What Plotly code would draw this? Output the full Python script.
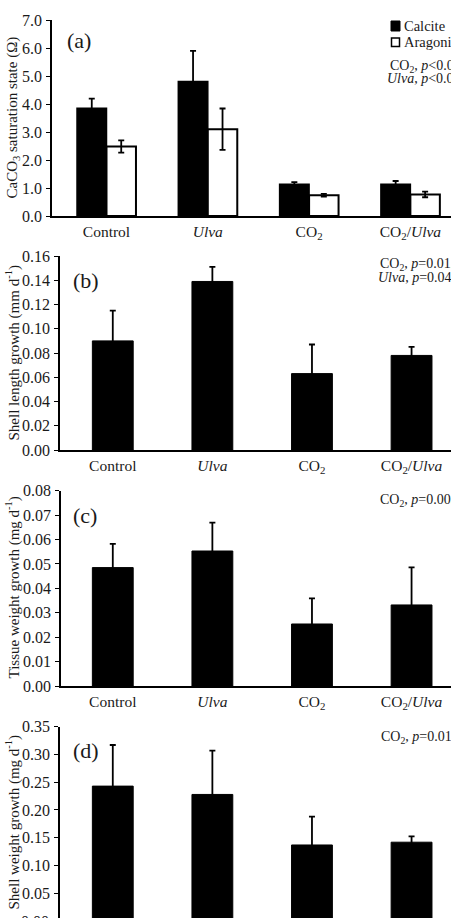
import plotly.graph_objects as go

# ---------------- data ----------------
categories = ["Control", "<i>Ulva</i>", "CO<sub>2</sub>", "CO<sub>2</sub>/<i>Ulva</i>"]

calcite = [3.85, 4.80, 1.13, 1.13]
calcite_err = [0.34, 1.10, 0.08, 0.12]
aragonite = [2.48, 3.10, 0.74, 0.77]
aragonite_err = [0.22, 0.74, 0.05, 0.10]

shell_length = [0.090, 0.139, 0.063, 0.078]
shell_length_err = [0.025, 0.012, 0.024, 0.007]

tissue_weight = [0.0485, 0.0553, 0.0254, 0.0332]
tissue_weight_err = [0.0097, 0.0116, 0.0105, 0.0154]

shell_weight = [0.243, 0.228, 0.137, 0.142]
shell_weight_err = [0.074, 0.079, 0.051, 0.0105]

# ---------------- figure ----------------
W, H = 451, 918
FONT = "Liberation Serif"
TXT = "#1a1a1a"

def px_x(p):
    return p / W

def px_y(p):
    return 1 - p / H

fig = go.Figure()

def err(arr):
    return dict(type="data", array=arr, visible=True, color="black", thickness=1.8, width=3)

fig.add_bar(x=categories, y=calcite, error_y=err(calcite_err), name="Calcite",
            marker=dict(color="black", line=dict(color="black", width=1.5)),
            xaxis="x", yaxis="y")
fig.add_bar(x=categories, y=aragonite, error_y=err(aragonite_err), name="Aragonite",
            marker=dict(color="white", line=dict(color="black", width=2)),
            xaxis="x", yaxis="y")
fig.add_bar(x=categories, y=shell_length, error_y=err(shell_length_err), width=0.41,
            marker=dict(color="black", line=dict(color="black", width=1)),
            xaxis="x2", yaxis="y2")
fig.add_bar(x=categories, y=tissue_weight, error_y=err(tissue_weight_err), width=0.41,
            marker=dict(color="black", line=dict(color="black", width=1)),
            xaxis="x3", yaxis="y3")
fig.add_bar(x=categories, y=shell_weight, error_y=err(shell_weight_err), width=0.41,
            marker=dict(color="black", line=dict(color="black", width=1)),
            xaxis="x4", yaxis="y4")

def xax(left_px, r0, r1, anchor, show=True):
    return dict(domain=[px_x(left_px), 1], range=[r0, r1], anchor=anchor,
                type="category", showline=show, linecolor="black", linewidth=2,
                ticks="", showgrid=False, zeroline=False, automargin=False,
                showticklabels=show,
                tickfont=dict(family=FONT, size=15.5, color=TXT), ticklabelstandoff=0)

def yax(top_px, bot_px, rng, dtick, fmt, anchor):
    return dict(domain=[px_y(bot_px), px_y(top_px)], range=rng, anchor=anchor,
                showline=True, linecolor="black", linewidth=1.5,
                ticks="outside", ticklen=4, tickwidth=1.2, tickcolor="black",
                dtick=dtick, tick0=0, tickformat=fmt, showgrid=False, zeroline=False,
                automargin=False, ticklabelstandoff=1,
                tickfont=dict(family=FONT, size=16, color=TXT))

fig.update_layout(
    width=W, height=H, margin=dict(l=0, r=0, t=0, b=0, autoexpand=False),
    paper_bgcolor="white", plot_bgcolor="white",
    barmode="group", bargap=0.418, bargroupgap=0,
    showlegend=False,
    xaxis=xax(52, -0.538, 3.401, "y"),
    yaxis=yax(20, 216, [0, 7], 1, ".1f", "x"),
    xaxis2=xax(60, -0.530, 3.396, "y2"),
    yaxis2=yax(256, 450, [0, 0.16], 0.02, ".2f", "x2"),
    xaxis3=xax(61, -0.520, 3.396, "y3"),
    yaxis3=yax(490.7, 686, [0, 0.08], 0.01, ".2f", "x3"),
    xaxis4=xax(60, -0.530, 3.396, "y4", show=False),
    yaxis4=yax(726.7, 918, [0.0055, 0.35], 0.05, ".2f", "x4"),
)

ann = []
def text(x, y, s, size=14, xanchor="left", angle=0, color=TXT):
    ann.append(dict(x=px_x(x), y=px_y(y), xref="paper", yref="paper", text=s,
                    showarrow=False, xanchor=xanchor, yanchor="middle", textangle=angle,
                    font=dict(family=FONT, size=size, color=color)))

# y-axis titles
text(12.5, 118, "CaCO<sub>3</sub> saturation state (Ω)", 15, "center", -90)
text(12.5, 353, "Shell length growth (mm d<sup>-1</sup>)", 15, "center", -90)
text(12.5, 588, "Tissue weight growth (mg d<sup>-1</sup>)", 15, "center", -90)
text(12.5, 822, "Shell weight growth (mg d<sup>-1</sup>)", 15, "center", -90)

# panel labels
text(65, 40, "(a)", 22)
text(71, 280, "(b)", 22)
text(71, 515, "(c)", 22)
text(71, 750, "(d)", 22)

# legend (a)
text(401.5, 26, "Calcite", 14.5)
text(401.5, 42, "Aragonite", 14.5)

# statistics
text(387.5, 66.5, "CO<sub>2</sub>, <i>p</i>&lt;0.001", 14)
text(385, 79, "<i>Ulva</i>, <i>p</i>&lt;0.001", 14)
text(377.7, 264.5, "CO<sub>2</sub>, <i>p</i>=0.012", 14)
text(376, 277, "<i>Ulva</i>, <i>p</i>=0.041", 14)
text(378.3, 500, "CO<sub>2</sub>, <i>p</i>=0.003", 14)
text(379, 737.5, "CO<sub>2</sub>, <i>p</i>=0.012", 14)

# partially visible bottom tick label of panel (d)
text(51, 921, "0.00", 16, "right")

fig.update_layout(annotations=ann)

fig.update_layout(shapes=[
    dict(type="rect", xref="paper", yref="paper",
         x0=px_x(391), x1=px_x(400), y0=px_y(31), y1=px_y(21),
         fillcolor="black", line=dict(color="black", width=1)),
    dict(type="rect", xref="paper", yref="paper",
         x0=px_x(391.5), x1=px_x(399.5), y0=px_y(46.5), y1=px_y(38),
         fillcolor="white", line=dict(color="black", width=1.5)),
])

fig.write_html("out.html")
